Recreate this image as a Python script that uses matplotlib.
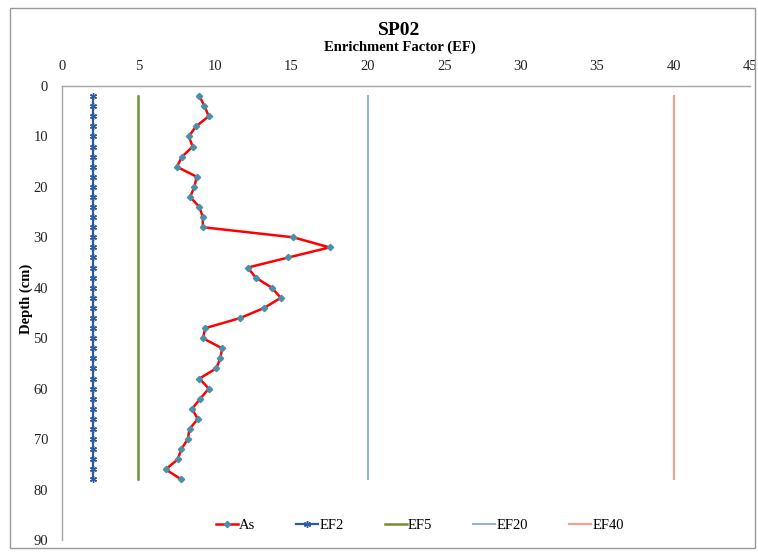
import matplotlib
matplotlib.use("Agg")
import matplotlib.pyplot as plt
from matplotlib.patches import Rectangle

plt.rcParams["font.family"] = ["Liberation Serif", "DejaVu Serif"]

# depth (cm) of each sample, SP02 core
depth = list(range(2, 80, 2))
ef_as = [8.99, 9.32, 9.60, 8.77, 8.29, 8.55, 7.86, 7.51, 8.81, 8.66,
         8.38, 8.99, 9.21, 9.21, 15.13, 17.50, 14.81, 12.14, 12.68, 13.73,
         14.31, 13.22, 11.66, 9.38, 9.21, 10.47, 10.36, 10.08, 8.99, 9.60,
         9.04, 8.51, 8.88, 8.34, 8.23, 7.80, 7.58, 6.78, 7.80]

# reference thresholds
ef_levels = {"EF2": 2, "EF5": 5, "EF20": 20, "EF40": 40}
level_colors = {"EF2": "#2F5C9E", "EF5": "#6E8F34", "EF20": "#95B3D7", "EF40": "#F4A08A"}
level_widths = {"EF2": 1.6, "EF5": 1.8, "EF20": 1.5, "EF40": 1.5}

x_ticks = list(range(0, 50, 5))
y_ticks = list(range(0, 100, 10))

fig = plt.figure(figsize=(7.58, 5.54), dpi=100)
fig.patches.append(Rectangle((0.013, 0.01), 0.983, 0.975, transform=fig.transFigure,
                             fill=False, edgecolor="#9A9A9A", linewidth=1.0))

ax = fig.add_axes([0.0818, 0.0253, 0.9076, 0.8195])

ax.plot(ef_as, depth, color="#FF0000", linewidth=1.8, marker="D", markersize=3.2,
        markerfacecolor="#4A90A8", markeredgecolor="#4A90A8", label="As", zorder=5)
for name, val in ef_levels.items():
    xs = [val] * len(depth)
    if name == "EF2":
        ax.plot(xs, depth, color=level_colors[name], linewidth=level_widths[name],
                marker=(6, 2, 0), markersize=5, markeredgewidth=1.0, label=name)
    else:
        ax.plot(xs, depth, color=level_colors[name], linewidth=level_widths[name],
                label=name)

ax.set_xlim(0, 45)
ax.set_ylim(90, 0)
ax.xaxis.tick_top()
ax.set_xticks(x_ticks)
ax.set_yticks(y_ticks)
ax.tick_params(axis="both", length=0, labelsize=10.5, colors="#222222")
ax.tick_params(axis="x", pad=9)
ax.tick_params(axis="y", pad=10)
for s in ["right", "bottom"]:
    ax.spines[s].set_visible(False)
for s in ["top", "left"]:
    ax.spines[s].set_color("#A6A6A6")
    ax.spines[s].set_linewidth(1.0)

ax.set_ylabel("Depth (cm)", fontsize=10.5, fontweight="bold")
ax.yaxis.set_label_coords(-0.042, 0.53)

fig.text(0.527, 0.945, "SP02", ha="center", va="center", fontsize=14, fontweight="bold")
fig.text(0.527, 0.915, "Enrichment Factor (EF)", ha="center", va="center",
         fontsize=10.5, fontweight="bold")

ax.legend(loc="center", bbox_to_anchor=(0.52, 0.033), ncol=5, frameon=False,
          fontsize=10.5, handlelength=1.5, handletextpad=0.1, columnspacing=2.8)

fig.savefig("out.png", dpi=100, facecolor="white")
